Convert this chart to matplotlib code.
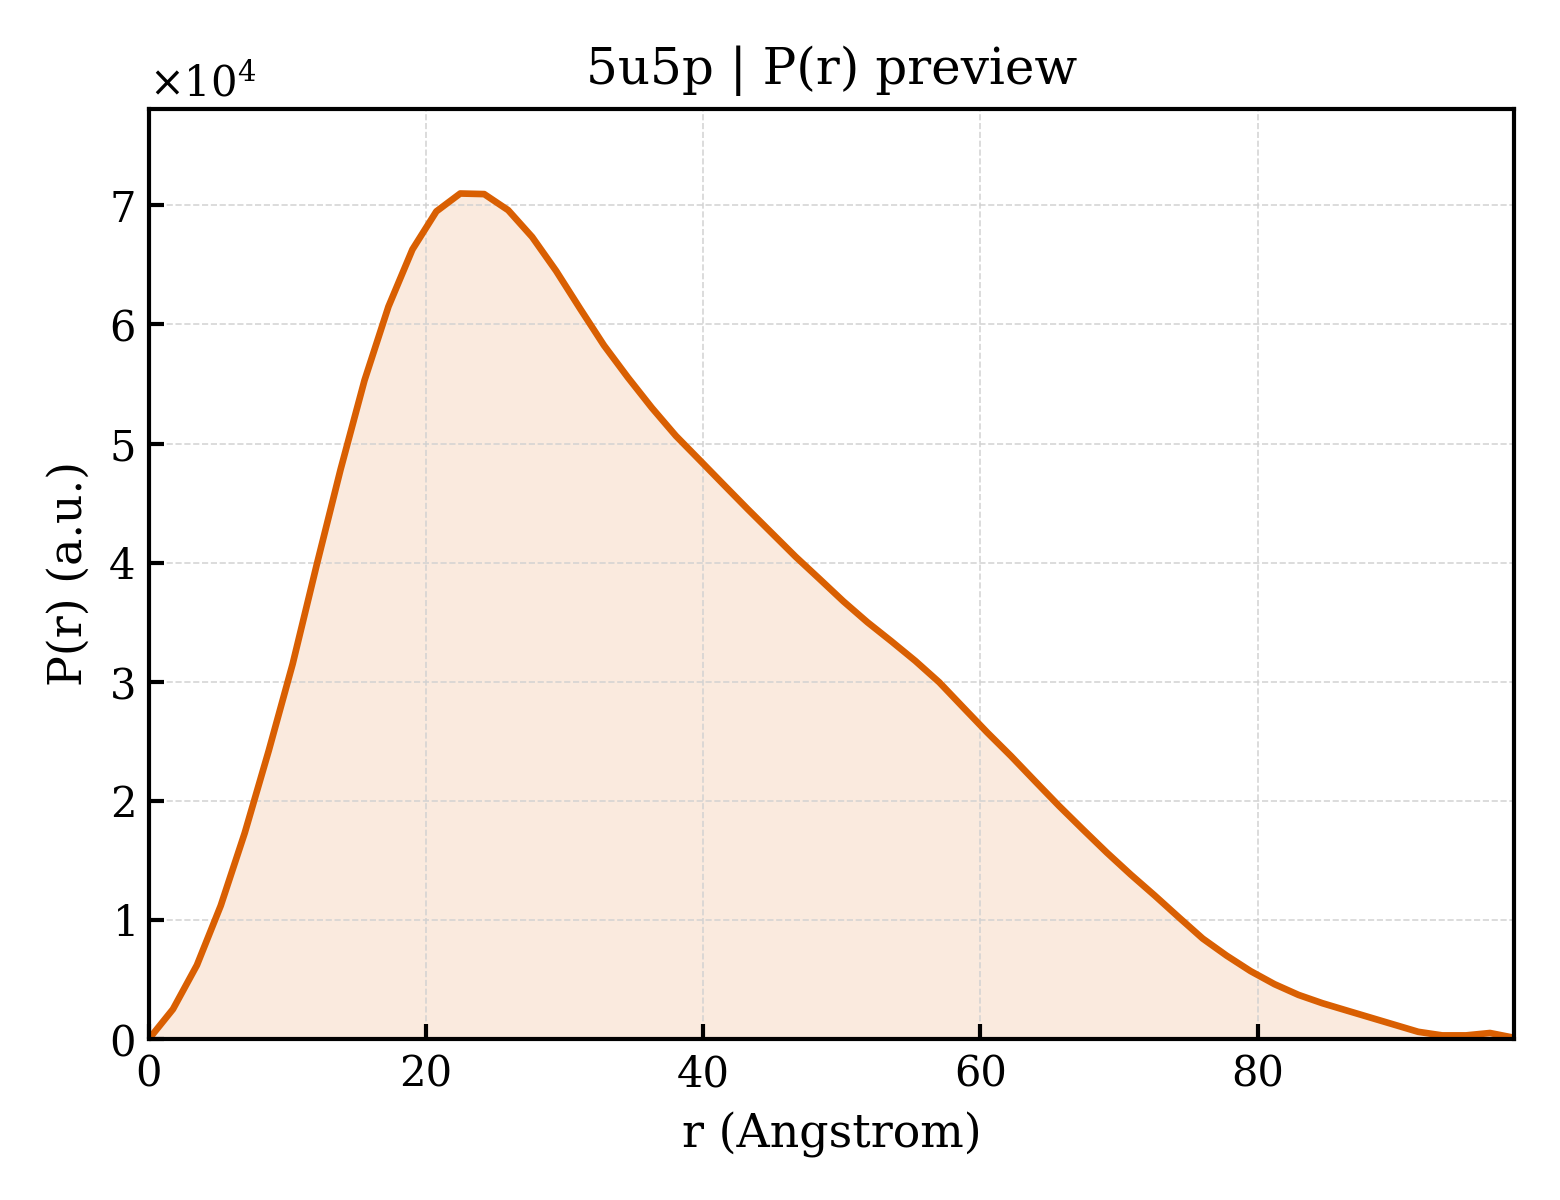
import matplotlib
matplotlib.use("Agg")
import matplotlib.pyplot as plt
from matplotlib.ticker import ScalarFormatter

# Data
r_angstrom = [0.00, 1.73, 3.46, 5.18, 6.91, 8.64, 10.37, 12.10, 13.82, 15.55,
              17.28, 19.01, 20.74, 22.46, 24.19, 25.92, 27.65, 29.38, 31.10, 32.83,
              34.56, 36.29, 38.02, 39.75, 41.47, 43.20, 44.93, 46.66, 48.39, 50.11,
              51.84, 53.57, 55.30, 57.03, 58.75, 60.48, 62.21, 63.94, 65.67, 67.39,
              69.12, 70.85, 72.58, 74.31, 76.04, 77.76, 79.49, 81.22, 82.95, 84.68,
              86.40, 88.13, 89.86, 91.59, 93.32, 95.04, 96.77, 98.50]
p_r = [0, 2500, 6200, 11200, 17300, 24200, 31500, 39800, 47800, 55300,
       61500, 66300, 69500, 71000, 70950, 69600, 67350, 64500, 61350, 58250,
       55550, 53000, 50650, 48600, 46550, 44500, 42500, 40500, 38630, 36750,
       35000, 33400, 31750, 29950, 27850, 25750, 23750, 21650, 19570, 17600,
       15650, 13800, 12040, 10220, 8430, 7000, 5700, 4600, 3700, 3000,
       2400, 1800, 1200, 600, 300, 300, 500, 100]

title = "5u5p | P(r) preview"
xlabel = "r (Angstrom)"
ylabel = "P(r) (a.u.)"
line_color = "#D95F02"

plt.rcParams['font.family'] = ['DejaVu Serif']
plt.rcParams['mathtext.fontset'] = 'dejavuserif'

fig = plt.figure(figsize=(5.2, 4.0), dpi=300)
ax = fig.add_axes([0.0955, 0.1342, 0.875, 0.775])

ax.fill_between(r_angstrom, p_r, 0, color=line_color, alpha=0.13, linewidth=0)
ax.plot(r_angstrom, p_r, color=line_color, linewidth=1.6)

ax.set_xlim(0, max(r_angstrom))
ax.set_ylim(0, 1.1 * max(p_r))

for s in ax.spines.values():
    s.set_linewidth(1.0)

ax.grid(True, linestyle='--', linewidth=0.4, color='0.82', alpha=0.9)
ax.tick_params(direction='in', labelsize=10, length=3.5, width=1.0)

fmt = ScalarFormatter(useMathText=True)
fmt.set_powerlimits((0, 0))
ax.yaxis.set_major_formatter(fmt)
ax.yaxis.get_offset_text().set_fontsize(10)

ax.set_title(title, fontsize=12)
ax.set_xlabel(xlabel, fontsize=11)
ax.set_ylabel(ylabel, fontsize=11)

fig.savefig("out.png", dpi=300)
